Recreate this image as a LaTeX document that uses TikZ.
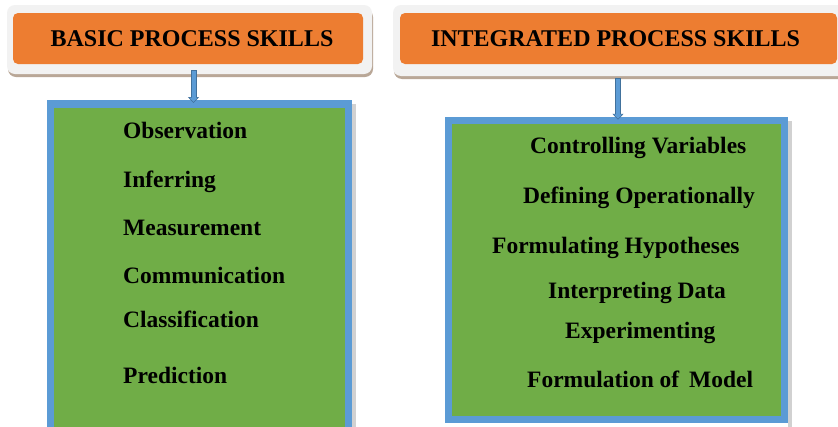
\documentclass[tikz,border=0pt]{standalone}
\usepackage{fontspec}
\setmainfont{Liberation Serif}
\usetikzlibrary{arrows.meta}
\definecolor{skillorange}{HTML}{ED7D31}
\definecolor{skillgreen}{HTML}{70AD47}
\definecolor{skillblue}{HTML}{5B9BD5}
\definecolor{arrowdark}{HTML}{41719C}
\definecolor{framegray}{HTML}{F2F2F2}
\definecolor{frameshadow}{HTML}{B9A797}
\tikzset{
  titlebox/.style={fill=skillorange, rounded corners=5pt, inner sep=0pt,
    font=\fontsize{24}{28}\selectfont\bfseries, text=black},
  bevel/.style={fill=framegray, rounded corners=8pt},
  bevelshadow/.style={fill=frameshadow, rounded corners=8pt},
  skillbox/.style={draw=skillblue, line width=7.5pt, fill=skillgreen, inner sep=0pt},
  skill/.style={anchor=base west, inner sep=0pt, font=\fontsize{23.5}{28}\selectfont\bfseries, text=black},
  flowout/.style={draw=arrowdark, line width=6pt, -{Triangle[length=6pt,width=11pt]}},
  flowin/.style={draw=skillblue, line width=4pt, -{Triangle[length=4.5pt,width=8pt]}, shorten >=1pt, shorten <=0.8pt},
}
\begin{document}
\begin{tikzpicture}[x=1pt,y=-1pt]
\useasboundingbox (0,0) rectangle (838,426);
\fill[white] (0,0) rectangle (838,426);

% bevelled frames behind the two headings
\fill[bevelshadow] (8,9) rectangle (373,77);
\fill[bevel] (7,5) rectangle (372,74);
\fill[bevelshadow] (394,9) rectangle (850,79);
\fill[bevel] (393,5) rectangle (850,76);

% headings
\node[titlebox, minimum width=350pt, minimum height=51pt] (t1) at (188,38.5) {\hspace*{8pt}BASIC PROCESS SKILLS};
\node[titlebox, minimum width=437pt, minimum height=51pt] (t2) at (618.5,38.5) {INTEGRATED PROCESS SKILLS\hspace*{6pt}};

% skill panels (soft shadow on the right, then the panel)
\fill[black!18] (352,104) rectangle (356,430);
\fill[black!18] (788,121) rectangle (792,427);
\node[skillbox, minimum width=298pt, minimum height=330pt] (b1) at (199.5,268.75) {};
\node[skillbox, minimum width=336pt, minimum height=299pt] (b2) at (616.5,270) {};

% connectors
\coordinate (c1) at (193.5,0);
\coordinate (c2) at (618,0);
\foreach \s in {flowout,flowin} {
  \draw[\s] ([yshift=-6pt]t1.south -| c1) -- ([yshift=-3pt]b1.north -| c1);
  \draw[\s] ([yshift=-14pt]t2.south -| c2) -- ([yshift=-3pt]b2.north -| c2);
}

% basic process skills
\node[skill] (s1) at (123,138) {Observation};
\node[skill] (s2) at (123,187) {Inferring};
\node[skill] (s3) at (123,235) {Measurement};
\node[skill] (s4) at (123,283) {Communication};
\node[skill] (s5) at (123,327) {Classification};
\node[skill] (s6) at (123,383) {Prediction};

% integrated process skills
\node[skill] (i1) at (530,153) {Controlling Variables};
\node[skill] (i2) at (523,203) {Defining Operationally};
\node[skill] (i3) at (492,253) {Formulating Hypotheses};
\node[skill] (i4) at (548,298) {Interpreting Data};
\node[skill] (i5) at (565,338) {Experimenting};
\node[skill] (i6) at (527,387) {Formulation of\, Model};
\end{tikzpicture}
\end{document}
